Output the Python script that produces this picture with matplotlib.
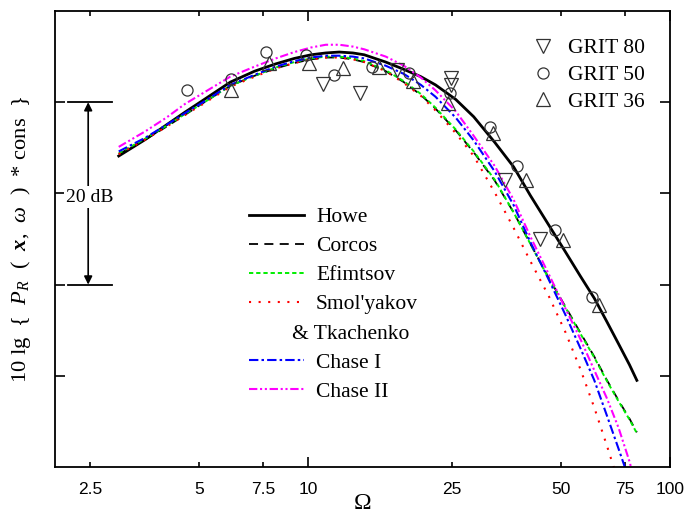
import matplotlib
matplotlib.use("Agg")
import matplotlib.pyplot as plt
from matplotlib.lines import Line2D
from matplotlib.transforms import ScaledTranslation, blended_transform_factory

plt.rcParams["font.family"] = ["Liberation Serif", "DejaVu Serif"]
plt.rcParams["mathtext.fontset"] = "custom"
plt.rcParams["mathtext.rm"] = "Liberation Serif"
plt.rcParams["mathtext.it"] = "Liberation Serif:italic"
plt.rcParams["mathtext.bf"] = "Liberation Serif:bold"
plt.rcParams["mathtext.bfit"] = "Liberation Serif:italic:bold"

# Frequency grid (Omega) and model spectra in dB
omega = [3.0, 3.55, 4.06, 4.57, 5.08, 6.1, 7.12, 8.14, 9.17, 10.2, 11.2, 12.2,
         13.3, 14.3, 16.4, 18.4, 20.5, 22.5, 25.6, 28.7, 32.8, 37.0, 41.1,
         46.3, 51.4, 56.6, 61.8, 67.0, 72.1, 77.3, 81.0]

howe = [34.1, 35.9, 37.5, 38.9, 40.1, 42.2, 43.4, 44.2, 44.8, 45.2, 45.4, 45.5,
        45.4, 45.2, 44.4, 43.6, 42.8, 41.9, 40.3, 38.4, 35.6, 32.9, 29.8,
        26.5, 23.6, 20.9, 18.5, 15.9, 13.5, 11.2, 9.5]
corcos = [34.3, 35.9, 37.3, 38.6, 39.8, 41.8, 42.9, 43.7, 44.3, 44.7, 44.9, 44.9,
          44.7, 44.4, 43.4, 42.2, 40.8, 39.3, 36.9, 34.5, 31.4, 27.9, 24.5,
          20.7, 17.6, 14.7, 12.1, 9.5, 7.3, 5.3, 3.8]
efimtsov = [34.4, 36.0, 37.4, 38.7, 39.8, 41.8, 42.9, 43.8, 44.4, 44.8, 45.0, 45.0,
            44.8, 44.5, 43.5, 42.3, 40.9, 39.4, 37.0, 34.6, 31.5, 27.9, 24.5,
            20.6, 17.5, 14.6, 12.0, 9.4, 7.2, 5.2, 3.7]
smolyakov = [34.3, 35.9, 37.3, 38.6, 39.7, 41.7, 42.8, 43.7, 44.3, 44.7, 44.9, 44.9,
             44.7, 44.4, 43.4, 42.1, 40.7, 39.1, 36.6, 34.1, 30.1, 26.2, 22.6,
             18.7, 14.8, 10.7, 6.5, 2.3, -1.7, -6.0, -9.5]
chase1 = [34.6, 36.1, 37.5, 38.8, 39.9, 41.9, 43.0, 43.9, 44.5, 44.9, 45.1, 45.1,
          45.0, 44.8, 44.0, 43.1, 41.9, 40.6, 38.3, 35.8, 32.4, 28.7, 24.7,
          20.5, 16.7, 13.0, 9.5, 5.6, 2.0, -1.5, -4.3]
chase2 = [35.1, 36.8, 38.3, 39.8, 40.9, 42.8, 43.9, 44.8, 45.5, 46.0, 46.3, 46.3,
          46.1, 45.8, 45.0, 44.0, 42.7, 41.3, 39.0, 36.3, 33.0, 29.3, 25.3,
          21.1, 17.4, 14.0, 10.6, 7.5, 4.3, 0.6, -2.4]

# Measurements for three roughness grades
grit80_omega = [11.0, 13.9, 17.6, 24.8, 24.8, 35.0, 43.7]
grit80_db = [42.0, 41.0, 43.5, 42.6, 41.9, 31.5, 25.0]
grit50_omega = [4.63, 6.13, 7.66, 9.87, 11.8, 15.0, 19.0, 24.7, 31.8, 37.8, 48.1, 60.9]
grit50_db = [41.3, 42.5, 45.5, 45.2, 43.0, 43.9, 43.2, 41.0, 37.3, 33.0, 26.0, 18.6]
grit36_omega = [6.13, 7.80, 10.06, 12.5, 15.7, 19.5, 24.4, 32.4, 40.0, 50.6, 63.7]
grit36_db = [41.3, 44.3, 44.3, 43.75, 43.9, 42.3, 39.9, 36.6, 31.5, 24.9, 17.8]

x_ticks_major = [10, 100]
x_ticks_minor = [2.5, 5, 7.5, 25, 50, 75]
y_ticks = [10, 20, 30, 40]

fig = plt.figure(figsize=(6.89, 5.19), dpi=100)
ax = fig.add_axes([0.0798, 0.1002, 0.8926, 0.8786])
ax.set_xscale("log")
ax.set_xlim(2, 100)
ax.set_ylim(0, 50)

l_howe, = ax.plot(omega, howe, color="black", lw=2.0, ls="-")
l_corcos, = ax.plot(omega, corcos, color="black", lw=1.3, ls=(0, (5, 3.5)))
l_efim, = ax.plot(omega, efimtsov, color="#00ee00", lw=1.4, ls=(0, (2.2, 1.5)))
l_smol, = ax.plot(omega, smolyakov, color="#ff0000", lw=1.5, ls=(0, (1, 3.6)))
l_ch1, = ax.plot(omega, chase1, color="#0000ff", lw=1.5, ls=(0, (4.5, 1.5, 1.2, 1.5)))
l_ch2, = ax.plot(omega, chase2, color="#ff00ff", lw=1.5,
                 ls=(0, (4, 1.3, 1, 1.3, 1, 1.3)))

mk = dict(ls="none", mfc="none", mec="#333333", mew=0.9)
m80, = ax.plot(grit80_omega, grit80_db, marker="v", ms=9.5, **mk)
m50, = ax.plot(grit50_omega, grit50_db, marker="o", ms=8, **mk)
m36, = ax.plot(grit36_omega, grit36_db, marker="^", ms=9.5, **mk)

# Axes styling
for s in ax.spines.values():
    s.set_linewidth(1.3)
ax.xaxis.set_major_locator(matplotlib.ticker.FixedLocator(x_ticks_major))
ax.xaxis.set_minor_locator(matplotlib.ticker.FixedLocator(x_ticks_minor))
fmt = matplotlib.ticker.FuncFormatter(lambda v, p: f"{v:g}")
ax.xaxis.set_major_formatter(fmt)
ax.xaxis.set_minor_formatter(fmt)
ax.set_yticks(y_ticks)
ax.set_yticklabels([])
ax.tick_params(which="both", direction="in", top=True, right=True, width=1.2,
               labelsize=12.5, labelfontfamily="Liberation Sans", pad=11)
ax.tick_params(which="major", length=7)
ax.tick_params(which="minor", length=3.5)

ax.set_xlabel("Ω", fontsize=17)
ax.xaxis.set_label_coords(0.5, -0.058)
ax.set_ylabel(r"10 lg  {  $P_R$  (  $\mathbfit{x}$,  $\omega$  )  * cons  }",
              fontsize=16.2, labelpad=5)

# 20 dB scale bar
tr = blended_transform_factory(ax.transAxes, ax.transData)
for yv in (40, 20):
    ax.plot([0.021, 0.093], [yv, yv], color="black", lw=1.3, transform=tr,
            clip_on=False)
ax.annotate("", xy=(0.054, 40), xytext=(0.054, 20), xycoords=tr, textcoords=tr,
            arrowprops=dict(arrowstyle="<|-|>", color="black", lw=1.2,
                            mutation_scale=12, shrinkA=0, shrinkB=0))
ax.text(0.056, 29.6, "20 dB", transform=tr, ha="center", va="center", fontsize=14,
        bbox=dict(facecolor="white", edgecolor="none", pad=1.5))

# Model legend
blank = Line2D([], [], ls="none")
leg1 = ax.legend([l_howe, l_corcos, l_efim, l_smol, blank, l_ch1, l_ch2],
                 ["Howe", "Corcos", "Efimtsov", "Smol'yakov", "& Tkachenko",
                  "Chase I", "Chase II"],
                 loc="upper left", bbox_to_anchor=(0.3154, 0.570), frameon=False,
                 fontsize=15.5, handlelength=2.56, handletextpad=0.56,
                 labelspacing=0.42, borderpad=0, borderaxespad=0)
tk = leg1.get_texts()[4]
tk.set_transform(tk.get_transform() + ScaledTranslation(-24 / 100, 0, fig.dpi_scale_trans))
ax.add_artist(leg1)

# Measurement legend
ax.legend([m80, m50, m36], ["GRIT 80", "GRIT 50", "GRIT 36"], loc="upper left",
          bbox_to_anchor=(0.776, 0.940), frameon=False, fontsize=15.5,
          handlelength=1.0, handletextpad=0.65, labelspacing=0.31, numpoints=1,
          borderpad=0, borderaxespad=0)

fig.savefig("out.png", dpi=100)
